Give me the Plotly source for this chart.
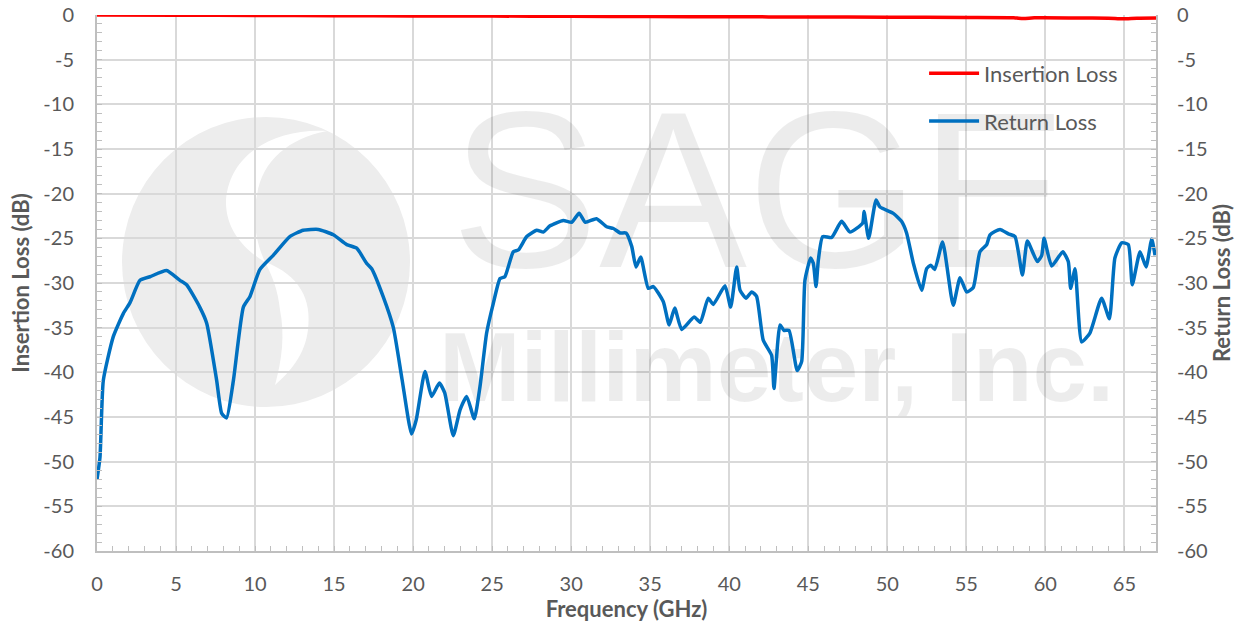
import plotly.graph_objects as go

# ---------------- data ----------------
rl_freq = [0.0, 0.19, 0.4, 1.03, 1.67, 2.09, 2.72, 3.35, 4.4, 5.25, 5.67, 6.5, 6.94, 7.57, 7.89, 8.2,
           8.63, 9.26, 9.68, 10.3, 11.15, 12.2, 13.05, 14.0, 14.95, 15.8, 16.43, 17.06, 17.38, 18.1,
           18.75, 19.3, 19.9, 20.2, 20.75, 21.17, 21.66, 22.0, 22.54, 22.97, 23.39, 23.87, 24.23,
           24.65, 25.07, 25.5, 25.8, 26.34, 26.66, 27.19, 27.82, 28.24, 28.66, 29.5, 30.03, 30.5,
           30.9, 31.6, 32.24, 32.67, 33.1, 33.47, 33.83, 34.1, 34.4, 34.88, 35.2, 35.83, 36.2,
           36.55, 36.99, 37.78, 38.17, 38.67, 38.99, 39.73, 40.09, 40.47, 40.68, 41.06, 41.42,
           41.73, 42.15, 42.68, 42.83, 43.21, 43.46, 43.78, 44.3, 44.58, 44.79, 45.15, 45.32,
           45.49, 45.64, 45.91, 46.48, 47.11, 47.64, 48.44, 48.53, 48.82, 49.29, 49.54, 50.38,
           50.9, 51.22, 51.65, 52.17, 52.49, 52.75, 53.0, 53.5, 54.17, 54.6, 55.02, 55.44, 55.86,
           56.29, 56.5, 57.13, 57.66, 58.08, 58.55, 58.86, 59.49, 59.77, 59.92, 60.4, 61.1,
           61.45, 61.6, 61.88, 62.3, 62.82, 63.56, 64.05, 64.4, 64.83, 65.25, 65.5, 65.99,
           66.37, 66.73, 66.94]
return_loss = [-52.0, -49.5, -40.9, -36.0, -33.4, -32.2, -29.7, -29.3, -28.6, -29.7, -30.2, -32.7,
               -34.5, -40.9, -44.6, -45.1, -40.9, -32.7, -31.5, -28.5, -26.9, -24.8, -24.1, -24.0,
               -24.6, -25.7, -26.1, -27.8, -28.4, -31.5, -35.0, -40.8, -46.9, -45.3, -39.9, -42.7,
               -41.2, -42.3, -47.1, -44.2, -42.7, -45.2, -41.6, -35.6, -32.3, -29.5, -29.3, -26.5,
               -26.3, -24.8, -24.1, -24.3, -23.6, -23.0, -23.2, -22.2, -23.2, -22.8, -23.7, -23.9,
               -24.4, -24.4, -25.9, -28.2, -27.1, -30.6, -30.4, -32.1, -34.7, -32.8, -35.2, -33.8,
               -34.4, -31.7, -32.4, -30.3, -32.7, -28.2, -30.8, -31.7, -31.0, -31.5, -36.4, -38.1,
               -41.8, -34.7, -35.3, -35.3, -39.8, -38.8, -29.7, -27.2, -27.8, -30.4, -27.4, -24.8,
               -24.9, -23.1, -24.3, -23.3, -22.0, -25.0, -20.7, -21.5, -22.2, -23.1, -24.4, -27.8,
               -30.8, -28.4, -28.0, -28.5, -25.4, -32.5, -29.4, -31.0, -30.5, -26.5, -25.7, -24.6,
               -24.0, -24.5, -24.8, -29.1, -25.3, -27.6, -26.9, -25.0, -28.1, -26.5, -27.6, -30.6,
               -28.4, -36.6, -35.6, -31.7, -34.0, -27.2, -25.5, -25.7, -30.2, -26.5, -28.2, -25.1,
               -26.9]

il_freq = [0, 5, 10, 15, 20, 25, 30, 35, 40, 45, 50, 55, 58, 58.6, 59.3, 62, 64, 64.9, 65.8, 67]
insertion_loss = [0.0, -0.03, -0.05, -0.08, -0.1, -0.12, -0.15, -0.17, -0.2, -0.22, -0.25, -0.27,
                  -0.3, -0.4, -0.32, -0.33, -0.35, -0.42, -0.35, -0.33]

x_ticks = list(range(0, 70, 5))
y_ticks = list(range(-60, 5, 5))
y_ticktext = [str(v) for v in y_ticks]

GRAY_TXT = "#595959"
GRID = "#d9d9d9"
AXIS = "#bfbfbf"
WM = "rgba(0,0,0,0.075)"

fig = go.Figure()

# watermark text (drawn first so the curves sit over it)
fig.add_trace(go.Scatter(x=[41.9], y=[-22.0], mode="text", text=["SAGE"],
                         textfont=dict(family="Liberation Sans", size=222, color=WM),
                         hoverinfo="skip", showlegend=False, cliponaxis=False))
fig.add_trace(go.Scatter(x=[43.0], y=[-40.5], mode="text", text=["<b>Millimeter, Inc.</b>"],
                         textfont=dict(family="Liberation Sans", size=98, color=WM),
                         hoverinfo="skip", showlegend=False, cliponaxis=False))

fig.add_trace(go.Scatter(x=il_freq, y=insertion_loss, name="Insertion Loss", mode="lines",
                         line=dict(color="#ff0000", width=3.5, shape="spline", smoothing=0.6),
                         legendgroup="a", cliponaxis=False))
fig.add_trace(go.Scatter(x=rl_freq, y=return_loss, name="Return Loss", mode="lines",
                         line=dict(color="#0070c0", width=3.5, shape="spline", smoothing=0.5),
                         legendgroup="b", cliponaxis=False))
# dummy trace to create right axis
fig.add_trace(go.Scatter(x=[None], y=[None], yaxis="y2", showlegend=False, hoverinfo="skip"))

# target plot area in screen pixels (page body margin removed below)
L, R, T, B = 97, 1156, 15, 551
W, H = 1248, 624


def X(px):
    return (px - L) / (R - L)


def Y(py):
    return (B - py) / (B - T)


def path(pts):
    s = "M %.4f,%.4f " % (X(pts[0][0]), Y(pts[0][1]))
    rest = pts[1:]
    for i in range(0, len(rest), 3):
        c = rest[i:i + 3]
        s += "C " + " ".join("%.4f,%.4f" % (X(a), Y(b)) for a, b in c) + " "
    return s + "Z"


fig.add_shape(type="circle", xref="paper", yref="paper", x0=X(122), x1=X(410), y0=Y(407), y1=Y(117),
              fillcolor="#ededed", line=dict(width=0), layer="below")
upper = [(327, 131), (280, 128), (230, 150), (226, 200), (225, 230), (245, 250), (265, 262),
         (255, 240), (252, 215), (257, 195), (262, 160), (290, 138), (327, 131)]
lower = [(265, 262), (300, 275), (312, 300), (308, 330), (305, 355), (290, 372), (275, 385),
         (282, 360), (285, 335), (280, 310), (278, 290), (272, 275), (265, 262)]
for p in (upper, lower):
    fig.add_shape(type="path", xref="paper", yref="paper", path=path(p),
                  fillcolor="white", line=dict(width=0), layer="below")

tickfont = dict(family="Lato", size=20, color=GRAY_TXT)
titlefont = dict(family="Lato", size=22, color=GRAY_TXT)

fig.update_layout(
    width=W, height=H,
    margin=dict(l=L, r=W - R, t=T, b=H - B),
    paper_bgcolor="white", plot_bgcolor="white",
    showlegend=True,
    legend=dict(x=0.781, y=0.93, xanchor="left", yanchor="top", bgcolor="rgba(0,0,0,0)",
                font=dict(family="Lato", size=22, color=GRAY_TXT), tracegroupgap=16,
                traceorder="grouped", itemwidth=50),
    xaxis=dict(range=[0, 67], tickmode="array", tickvals=x_ticks, showgrid=True, gridcolor=GRID,
               gridwidth=1.5, showline=True, linecolor=AXIS, linewidth=2, zeroline=False,
               ticks="inside", ticklen=0, tickfont=tickfont, ticklabelstandoff=14, automargin=False,
               ticklabeloverflow="allow",
               minor=dict(dtick=1, ticks="inside", ticklen=5, tickcolor=AXIS, showgrid=False),
               title=dict(text="<b>Frequency (GHz)</b>", font=titlefont, standoff=0)),
    yaxis=dict(range=[-60, 0], tickmode="array", tickvals=y_ticks, ticktext=y_ticktext,
               showgrid=True, gridcolor=GRID,
               gridwidth=1.5, showline=True, linecolor=AXIS, linewidth=2, zeroline=False,
               ticks="inside", ticklen=0, tickfont=tickfont, ticklabelstandoff=17, automargin=False,
               ticklabeloverflow="allow",
               minor=dict(dtick=1, ticks="inside", ticklen=5, tickcolor=AXIS, showgrid=False),
               title=dict(text="<b>Insertion Loss (dB)</b>", font=titlefont, standoff=8)),
    yaxis2=dict(range=[-60, 0], tickmode="array", tickvals=y_ticks, ticktext=y_ticktext,
                overlaying="y", side="right", automargin=False, ticklabeloverflow="allow",
                showgrid=False, showline=True, linecolor=AXIS, linewidth=2, zeroline=False,
                ticks="inside", ticklen=0, tickfont=tickfont, ticklabelstandoff=15,
                minor=dict(dtick=1, ticks="inside", ticklen=5, tickcolor=AXIS, showgrid=False),
                title=dict(text="<b>Return Loss (dB)</b>", font=titlefont, standoff=8)),
)

fig.write_html("out.html", config={"displayModeBar": False},
               post_script="document.body.style.margin='0';document.body.style.overflow='hidden';")
